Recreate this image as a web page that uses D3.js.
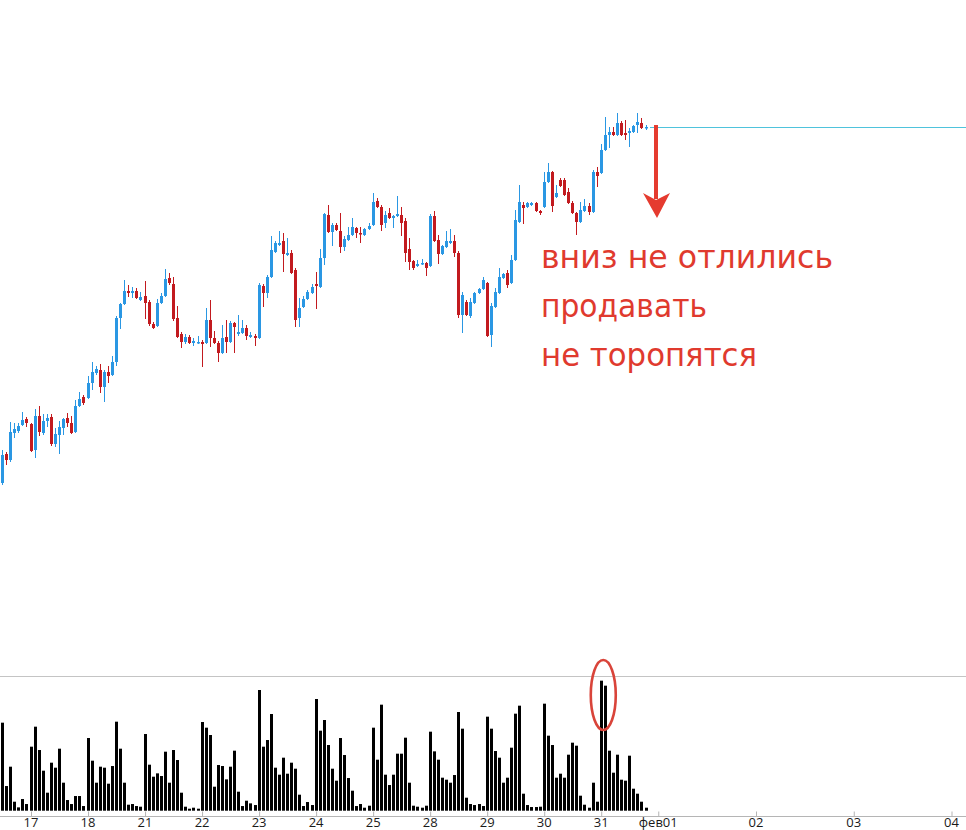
<!DOCTYPE html>
<html><head><meta charset="utf-8">
<script src="https://cdn.jsdelivr.net/npm/d3@7"></script>
<style>html,body{margin:0;padding:0;background:#fff;} svg{display:block}</style>
</head><body>
<svg id="c" width="966" height="830"></svg>
<script>
// ---- data (hourly candles, price units arbitrary) ----
const open = [117,146,140,167,169,175,181,176,150,184,
167,179,183,156,165,172,182,177,168,194,
203,202,217,227,230,213,228,225,238,282,
296,309,307,309,300,304,298,276,274,297,
304,322,316,282,266,258,263,257,257,258,
257,280,262,257,247,263,258,277,266,267,
272,263,264,262,314,307,323,348,355,359,
345,347,330,282,293,301,307,316,313,342,
385,368,375,369,353,360,365,372,367,365,
371,375,399,393,377,387,382,384,385,379,
351,339,334,336,337,334,384,360,346,353,
357,359,347,285,298,284,297,307,311,317,
265,293,307,322,327,317,340,378,395,393,
395,397,389,393,418,428,403,420,420,408,
397,387,378,389,394,388,428,427,450,465,
468,465,477,467,467,468,475,477,472];
const high = [150,148,178,177,177,188,183,177,191,194,
186,186,186,172,179,182,187,184,200,208,
205,224,238,234,236,230,234,244,284,297,
320,315,313,312,308,319,300,278,301,307,
331,327,323,294,268,266,265,262,264,260,
292,300,269,259,275,280,279,278,285,280,
275,268,266,317,316,325,364,359,369,367,
362,350,332,302,304,310,316,328,351,387,
395,377,377,387,364,373,382,373,373,372,
377,407,402,395,389,392,385,404,393,382,
362,340,340,341,338,386,389,365,355,369,
371,365,349,308,300,302,308,312,323,318,
297,312,332,327,330,345,390,415,398,398,
398,398,390,428,437,429,415,422,422,412,
399,388,398,401,397,430,433,456,483,473,
473,487,479,480,472,475,487,482,475];
const low = [115,135,138,162,167,174,173,148,142,164,
165,173,154,153,146,165,173,166,167,193,
195,201,210,225,207,198,217,224,234,271,
295,303,302,301,299,281,274,271,273,296,
303,315,279,262,252,256,256,254,256,233,
256,253,256,238,246,247,257,247,264,266,
260,262,254,261,293,302,322,347,354,328,
344,326,273,273,292,300,306,291,312,335,
367,354,369,347,349,359,364,362,357,364,
370,374,392,369,372,381,372,383,364,338,
330,330,333,335,324,333,358,336,345,352,
356,343,282,267,284,282,296,306,310,263,
253,292,306,321,312,316,339,377,376,392,
394,388,385,392,417,388,402,413,404,396,
386,365,377,388,385,387,413,426,449,452,
464,464,464,460,453,467,467,471,470];
const close = [145,140,168,171,174,180,177,149,184,168,
179,182,156,166,173,181,177,167,194,201,
197,217,228,231,213,228,224,238,282,296,
309,307,309,302,303,297,276,272,297,304,
321,317,281,263,258,263,257,259,258,256,
280,262,257,247,262,258,277,273,268,272,
264,265,262,315,307,323,350,357,357,346,
347,327,280,292,301,308,313,314,342,386,
368,375,370,353,361,365,373,367,366,371,
374,398,393,375,385,382,384,386,377,347,
338,332,336,337,332,384,359,346,354,359,
359,347,285,305,285,298,307,311,320,264,
294,308,323,326,315,340,380,398,392,397,
397,389,387,418,428,394,407,414,405,397,
387,378,390,394,388,428,424,450,465,468,
465,477,465,465,469,474,478,472,473];
const volume = [264,74,132,27,10,35,20,192,252,182,
120,54,144,129,186,84,32,20,44,44,
14,218,150,84,132,129,81,134,267,186,
84,18,20,14,12,230,138,102,112,104,
177,84,182,152,54,12,6,9,6,266,
249,227,72,137,134,94,132,180,57,14,
30,22,17,362,192,212,290,129,108,159,
111,144,126,48,14,26,17,335,240,272,
197,126,90,218,167,98,60,14,20,9,
15,249,153,318,108,77,108,171,171,219,
84,15,12,9,15,237,178,153,99,93,
84,107,296,246,39,20,17,20,14,282,
246,179,159,84,99,189,291,315,51,17,
11,11,12,321,225,197,99,111,99,168,
204,195,45,18,9,84,27,390,375,180,
114,168,93,90,165,66,51,27,9];
const dayLabels = ["17","18","21","22","23","24","25","28","29","30","31","фев01","02","03","04"];
const dayIndex  = [7,21,35,49,63,77,91,105,119,133,147,161,185,209,233];
const noteLines = ["вниз не отлились","продавать","не торопятся"];
const markedBars = [147,148];

// ---- layout ----
const W = 966, H = 830;
const UP = "#2a97e3", DOWN = "#c21a1f", NOTE = "#e03a2e";
const svg = d3.select("#c");
const x  = d3.scaleLinear().domain([0, 236]).range([2, 2 + 236 * 4.073]);
const y  = d3.scaleLinear().domain([0, 600]).range([600, 0]);
const yv = d3.scaleLinear().domain([0, 404]).range([810.7, 676]);
const px = i => Math.round(x(i));
const idx = d3.range(open.length);

// volume panel separator
svg.append("line").attr("x1",0).attr("x2",W)
  .attr("y1",Math.round(yv(404))+0.5).attr("y2",Math.round(yv(404))+0.5)
  .attr("stroke","#c4c4c4").attr("stroke-width",1);

// last price line
const last = close[close.length-1];
svg.append("line").attr("x1",px(open.length-1)+4).attr("x2",W)
  .attr("y1",Math.round(y(last))+0.5).attr("y2",Math.round(y(last))+0.5)
  .attr("stroke","#4fc3dc").attr("stroke-width",1);

// candles
const g = svg.append("g");
g.selectAll("line.w").data(idx).join("line").attr("class","w")
  .attr("x1",i=>px(i)+0.5).attr("x2",i=>px(i)+0.5)
  .attr("y1",i=>y(high[i])).attr("y2",i=>y(low[i]))
  .attr("stroke",i=>close[i]>=open[i]?UP:DOWN).attr("stroke-width",1);
g.selectAll("rect.b").data(idx).join("rect").attr("class","b")
  .attr("x",i=>px(i)-1).attr("width",3)
  .attr("y",i=>y(Math.max(open[i],close[i])))
  .attr("height",i=>Math.max(1.5, Math.abs(y(open[i])-y(close[i]))))
  .attr("fill",i=>close[i]>=open[i]?UP:DOWN);

// volume
svg.append("g").selectAll("rect").data(idx).join("rect")
  .attr("x",i=>px(i)-1).attr("width",3)
  .attr("y",i=>yv(volume[i])).attr("height",i=>yv(0)-yv(volume[i]))
  .attr("fill","#000");

// x axis
const axis = d3.axisBottom(x).tickValues(dayIndex)
  .tickFormat((d,k)=>dayLabels[k]).tickSizeInner(-5).tickSizeOuter(0).tickPadding(1.5);
const ag = svg.append("g").attr("transform","translate(0,816.5)").call(axis);
ag.select(".domain").remove();
ag.selectAll(".tick line").attr("stroke","#b5b5b5").attr("transform","translate(0.5,0)");
ag.selectAll(".tick text").attr("fill","#1a1a1a").attr("dy","0.68em")
  .style("font-family","'Open Sans', 'Noto Sans', sans-serif").style("font-size","13px");
svg.append("line").attr("x1",0).attr("x2",W).attr("y1",816.5).attr("y2",816.5)
  .attr("stroke","#b5b5b5").attr("stroke-width",1);

// annotation arrow (pointing down from the last price)
const ax = px(open.length-1) + 10;
const yl = y(last);
svg.append("rect").attr("x",ax-2).attr("width",4).attr("y",yl-2).attr("height",74)
  .attr("fill","#e53b2f");
svg.append("path")
  .attr("d",`M${ax-13},${yl+66} L${ax},${yl+73} L${ax+14},${yl+66} L${ax+1},${yl+91} Z`)
  .attr("fill","#e53b2f");

// annotation text
const noteW = [292, 166, 216];
svg.append("g").selectAll("text").data(noteLines).join("text")
  .attr("x",541).attr("y",(d,k)=>268 + k*49)
  .attr("textLength",(d,k)=>noteW[k]).attr("lengthAdjust","spacingAndGlyphs")
  .attr("fill",NOTE).style("font-family","'DejaVu Sans', sans-serif").style("font-size","32px")
  .text(d=>d);

// ellipse around the volume spike
const ex = (x(markedBars[0]) + x(markedBars[1])) / 2 + 0.5;
svg.append("ellipse").attr("cx",ex).attr("cy",695).attr("rx",12.5).attr("ry",35)
  .attr("fill","none").attr("stroke","#d9443a").attr("stroke-width",2.6);
</script>
</body></html>
